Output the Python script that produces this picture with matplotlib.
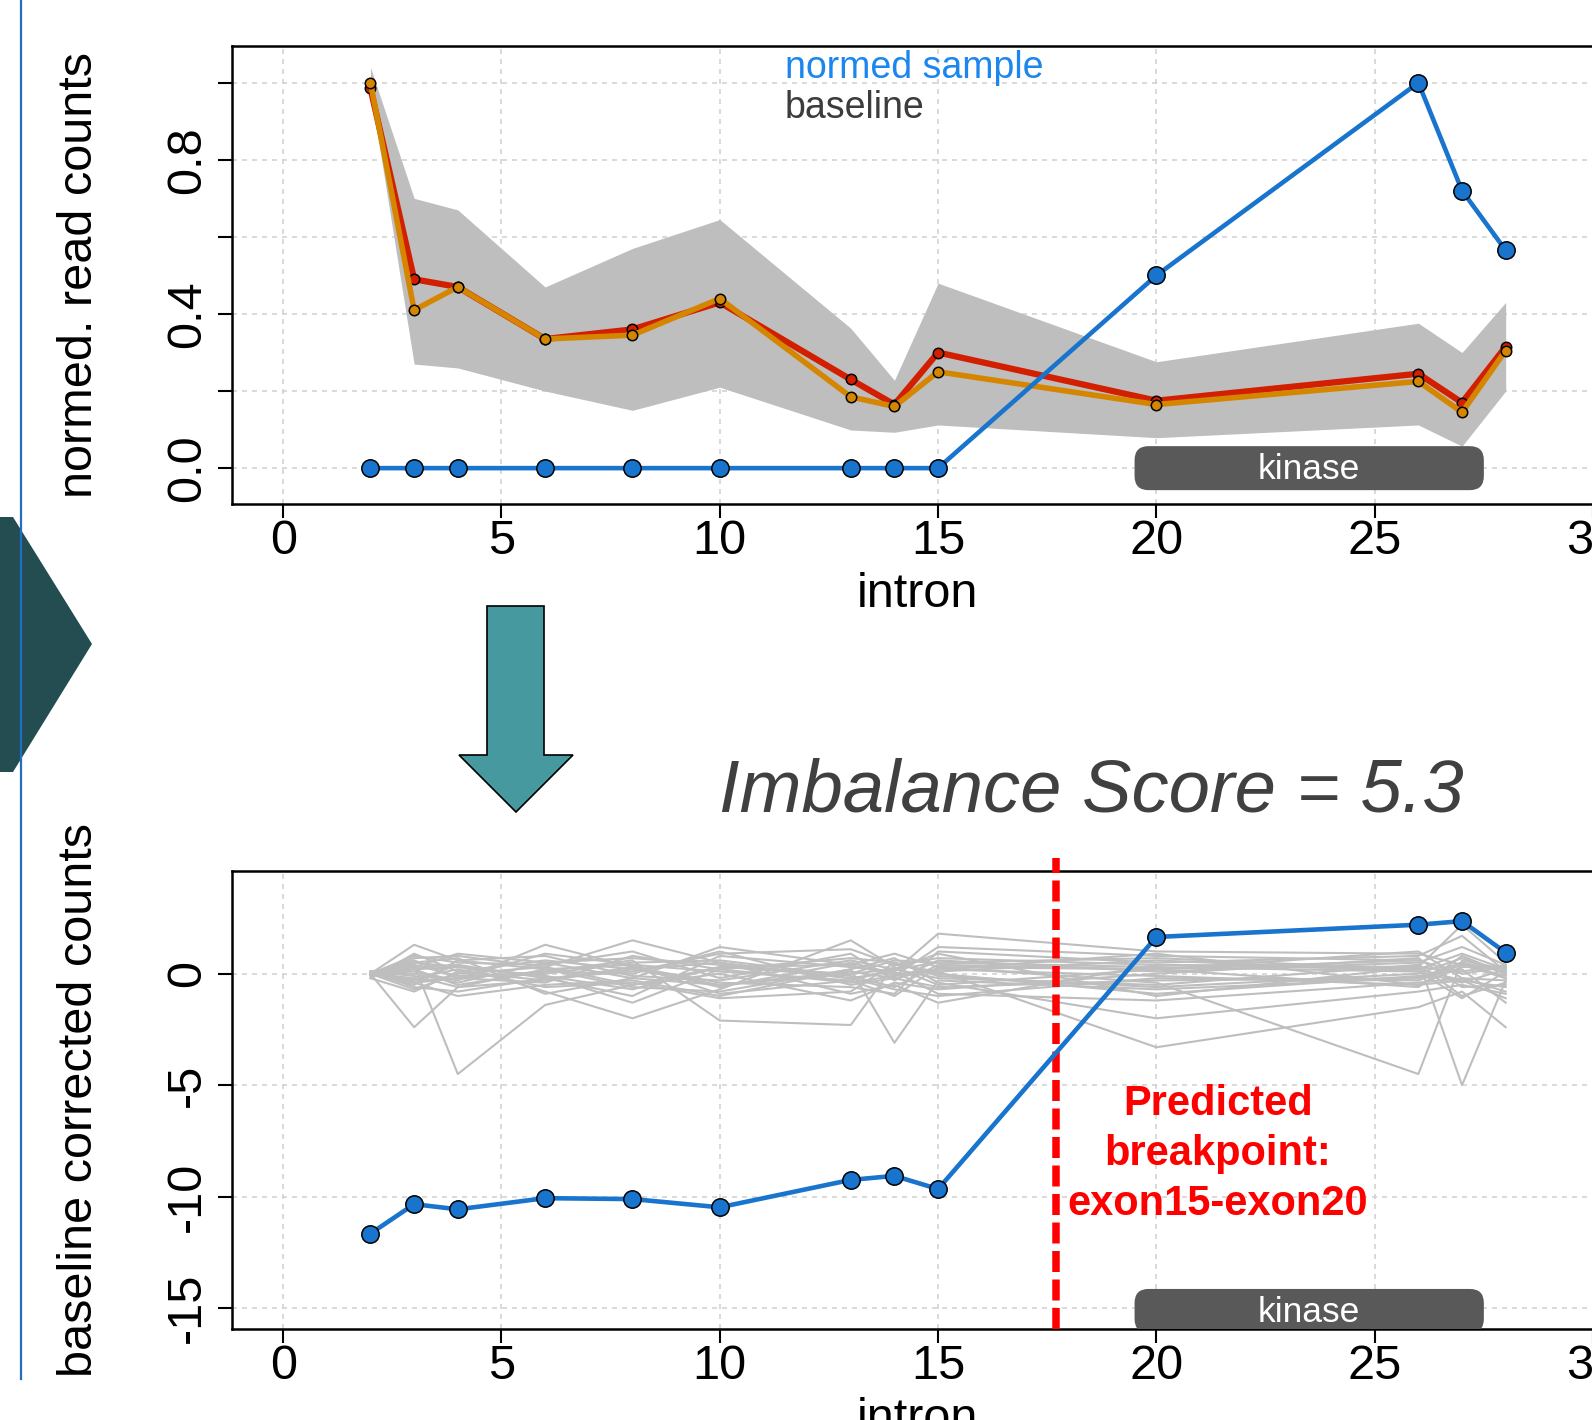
import numpy as np
import matplotlib
matplotlib.use("Agg")
import matplotlib.pyplot as plt
from matplotlib.patches import Polygon, FancyBboxPatch
from matplotlib.lines import Line2D

plt.rcParams['font.family'] = ['Liberation Sans', 'DejaVu Sans']

# --- data ---
introns = [2, 3, 4, 6, 8, 10, 13, 14, 15, 20, 26, 27, 28]

# top panel: normalised read counts
sample_norm = [0.0, 0.0, 0.0, 0.0, 0.0, 0.0, 0.0, 0.0, 0.0, 0.50, 1.00, 0.72, 0.565]
baseline_red = [0.985, 0.49, 0.47, 0.335, 0.36, 0.43, 0.23, 0.165, 0.30, 0.175, 0.245, 0.17, 0.315]
baseline_orange = [1.0, 0.41, 0.47, 0.335, 0.345, 0.44, 0.185, 0.16, 0.25, 0.165, 0.225, 0.145, 0.305]
band_upper = [1.04, 0.70, 0.67, 0.47, 0.57, 0.645, 0.363, 0.228, 0.48, 0.276, 0.376, 0.30, 0.43]
band_lower = [0.98, 0.27, 0.26, 0.20, 0.15, 0.21, 0.099, 0.093, 0.112, 0.079, 0.112, 0.057, 0.20]

# bottom panel: baseline corrected counts
sample_corrected = [-11.66, -10.34, -10.57, -10.07, -10.11, -10.48, -9.25, -9.07, -9.66, 1.65, 2.2, 2.36, 0.95]
reference_corrected = [
    [0.0, 1.3, 0.6, 0.2, 0.4, 0.1, -0.3, 0.2, 0.5, 0.3, 0.1, -0.4, 0.2],
    [0.0, -2.4, -0.6, -0.3, 0.2, -0.5, 0.1, -0.2, -0.6, -0.3, -0.2, 0.5, -0.2],
    [-0.1, 0.4, -4.5, -1.4, -0.5, 0.3, 0.4, -0.1, 0.2, -0.1, -0.5, 0.3, 0.3],
    [0.0, 0.7, 0.8, 0.3, 1.5, 0.5, -0.2, 0.1, 1.8, 1.0, 0.9, 0.4, -0.1],
    [0.0, -0.4, -1.0, -0.5, -0.3, -1.0, 0.2, -3.1, -0.3, -0.7, -0.2, 0.5, 0.1],
    [0.1, 0.3, 0.9, 0.5, -0.2, 1.2, 0.4, 0.9, 0.3, -0.4, -4.5, 0.6, 0.2],
    [0.0, -0.3, 0.4, -0.8, -2.0, -0.7, 1.5, 0.3, -0.5, 0.2, 0.6, -5.0, -0.3],
    [0.0, 0.2, -0.5, 0.1, 0.6, -2.1, -2.3, 0.4, 0.1, -3.3, -1.5, -0.8, -2.4],
    [-0.2, -0.8, 0.1, 0.6, 0.2, 0.5, -0.9, -0.5, -1.3, 0.4, 0.3, 2.2, 0.5],
    [0.0, 0.5, 0.3, -0.1, -0.7, 0.3, 0.0, 0.6, 0.5, 0.7, 0.2, -0.3, -0.6],
    [0.0, 0.1, -0.3, 1.3, 0.3, -0.4, -0.6, -0.9, 1.0, 0.5, 0.8, 1.7, 0.1],
    [0.1, -0.6, -0.8, -0.2, -1.0, 0.8, 0.3, 0.1, -0.9, -1.2, -0.4, -0.2, -0.8],
    [0.0, 0.8, 0.5, 0.4, 1.0, -0.2, 0.9, -0.3, 0.6, 0.1, 0.5, 1.2, 0.4],
    [0.0, -0.2, 0.2, -0.6, -0.4, -1.1, -0.8, 0.5, 0.0, -0.9, -0.1, 0.2, -1.3],
    [-0.1, 0.4, -0.1, 0.0, 0.5, 0.6, -0.1, -0.6, 0.4, 0.2, -0.6, 0.8, 0.0],
    [0.0, -0.5, 0.6, 0.8, -0.1, -0.3, 0.6, 0.2, -0.2, -0.5, 0.4, -1.0, -0.4],
    [0.0, 0.6, -0.2, -0.4, 0.8, 0.2, -0.4, -0.1, 1.2, 0.8, 0.6, 0.0, 0.3],
    [0.1, -0.1, -0.6, 0.2, -0.6, -0.8, 0.2, 0.7, -0.4, -2.0, -0.8, -0.5, -0.9],
    [0.0, 0.3, 0.4, -0.2, 0.1, 0.9, 1.1, 0.4, 0.7, 0.4, 0.2, 0.9, 0.2],
    [0.0, -0.7, 0.0, 0.3, -0.5, 0.0, -1.2, -0.4, -0.7, 0.0, 0.7, -0.6, -0.5],
    [-0.2, 0.9, 0.1, -0.3, 0.3, -0.6, 0.5, 0.0, 0.1, 0.6, 0.1, -1.1, 0.1],
    [0.0, 0.0, -0.4, 0.5, 0.7, 0.4, -0.2, -0.7, -1.0, -0.2, -0.3, 0.4, -0.2],
    [0.0, 0.5, 0.7, -0.9, -0.2, -0.5, 0.0, 0.2, 0.9, -1.0, 0.3, 0.1, 0.4],
    [0.1, -0.3, -0.2, 0.1, 0.0, 1.0, -0.5, -0.2, 0.2, 0.9, -0.5, -0.3, -1.1],
    [0.0, 0.2, 0.3, -0.1, -1.3, 0.2, 0.7, 0.5, -0.1, -0.6, 0.0, 0.7, 0.0],
    [0.0, -0.4, -0.2, 0.9, 0.4, -0.9, -0.3, -1.0, 0.3, 0.2, 1.0, -0.2, -0.3],
]

kinase_start, kinase_end = 19.5, 27.5
breakpoint_x = 17.7
imbalance_score = 5.3
breakpoint_text = ["Predicted", "breakpoint:", "exon15-exon20"]

x_ticks = [0, 5, 10, 15, 20, 25, 30]
top_yticks = [0.0, 0.2, 0.4, 0.6, 0.8, 1.0]
top_yticklabels = ["0.0", "", "0.4", "", "0.8", ""]
bot_yticks = [-15, -10, -5, 0]
bot_yticklabels = ["-15", "-10", "-5", "0"]

# --- figure in pixel terms ---
W, H = 1592, 1420
fig = plt.figure(figsize=(W / 100, H / 100), dpi=100)


def fx(px):
    return px / W


def fy(py):
    return 1 - py / H


FS = 35
BLUE = "#1874cd"
GRAY = "#bebebe"

ax1 = fig.add_axes([fx(232.5), fy(503.6), (1600 - 232.5) / W, (503.6 - 45.7) / H])
ax2 = fig.add_axes([fx(232.5), fy(1329), (1600 - 232.5) / W, (1329 - 871) / H])


def style_axes(ax, yticks, ylabels, ylim):
    ax.set_xlim(-1.16, 30.16)
    ax.set_ylim(*ylim)
    ax.set_xticks(x_ticks)
    ax.set_xticklabels([str(t) for t in x_ticks])
    ax.set_yticks(yticks)
    ax.set_yticklabels(ylabels, rotation=90, va='center')
    ax.tick_params(direction='out', length=10, width=1.5, labelsize=FS)
    ax.tick_params(axis='x', pad=1)
    ax.tick_params(axis='y', pad=6)
    ax.grid(True, color='#d3d3d3', linestyle=(0, (3, 3)), linewidth=1.2)
    ax.set_axisbelow(True)
    for s in ax.spines.values():
        s.set_linewidth(1.8)


def kinase_box(ax, yc):
    p0 = ax.transData.transform((0, 0))
    p1 = ax.transData.transform((1, 1))
    ppx, ppy = p1 - p0
    rx, ry = 14 / ppx, 14 / ppy
    h = 44 / ppy
    box = FancyBboxPatch((kinase_start, yc - h / 2), kinase_end - kinase_start, h,
                         boxstyle=f"round,pad=0,rounding_size={rx}",
                         mutation_aspect=ry / rx, facecolor="#595959",
                         edgecolor="none", zorder=4)
    ax.add_patch(box)
    ax.text((kinase_start + kinase_end) / 2, yc - 1.5 / ppy, "kinase", color="white",
            fontsize=25.5, ha='center', va='center', zorder=5)


# --- top panel ---
style_axes(ax1, top_yticks, top_yticklabels, (-0.092, 1.096))
ax1.fill_between(introns, band_lower, band_upper, color=GRAY, linewidth=0, zorder=1)
ax1.plot(introns, baseline_red, color="#d21f00", lw=4.5, marker='o', ms=7.5,
         mec='black', mew=1.1, zorder=2)
ax1.plot(introns, baseline_orange, color="#d58600", lw=4.0, marker='o', ms=7.5,
         mec='black', mew=1.1, zorder=3)
kinase_box(ax1, 0.0)
ax1.plot(introns, sample_norm, color=BLUE, lw=3.3, marker='o', ms=12.5,
         mec='black', mew=1.1, zorder=6)

# --- bottom panel ---
style_axes(ax2, bot_yticks, bot_yticklabels, (-15.94, 4.61))
for ref in reference_corrected:
    ax2.plot(introns, ref, color=GRAY, lw=1.5, zorder=2)
kinase_box(ax2, -15.13)
ax2.axvline(breakpoint_x, ymin=0, ymax=1.028, color="#ff0000", lw=5.4,
            dashes=(2.8, 1.0), clip_on=False, zorder=3)
ax2.plot(introns, sample_corrected, color=BLUE, lw=3.3, marker='o', ms=12.5,
         mec='black', mew=1.1, zorder=6)

# --- axis titles ---
for yc, label in [((45.7 + 503.6) / 2, "normed. read counts"),
                  ((871 + 1329) / 2, "baseline corrected counts")]:
    fig.text(fx(92), fy(yc), label, rotation=90, rotation_mode='anchor',
             ha='center', va='baseline', fontsize=FS)
for yb in [607, 1432]:
    fig.text(fx(917), fy(yb), "intron", ha='center', va='baseline', fontsize=FS)

# legend
fig.text(fx(785), fy(78), "normed sample", color="#1c86ee", fontsize=27,
         ha='left', va='baseline')
fig.text(fx(785), fy(118), "baseline", color="#3c3c3c", fontsize=27,
         ha='left', va='baseline')

# score
fig.text(fx(1091), fy(812), f"Imbalance Score = {imbalance_score}", fontsize=53.5,
         style='italic', color="#404040", ha='center', va='baseline')

# breakpoint annotation
for i, line in enumerate(breakpoint_text):
    fig.text(fx(1218), fy(1115 + 50 * i), line, color="#ff0000", fontsize=30,
             fontweight='bold', ha='center', va='baseline')

# --- decorations: side line, chevron and down arrow ---
fig.add_artist(Line2D([fx(21), fx(21)], [fy(0), fy(1379)], color="#1f6fc4", lw=1.6))
chevron = [(0, 517), (13, 517), (92, 644), (13, 772), (0, 772)]
fig.add_artist(Polygon([(fx(a), fy(b)) for a, b in chevron], closed=True,
                       facecolor="#234d50", edgecolor="none"))
arrow = [(487, 606), (544, 606), (544, 755), (573, 755), (516, 812), (459, 755), (487, 755)]
fig.add_artist(Polygon([(fx(a), fy(b)) for a, b in arrow], closed=True,
                       facecolor="#4799a0", edgecolor="black", lw=1.2))

fig.savefig("out.png", dpi=100)
